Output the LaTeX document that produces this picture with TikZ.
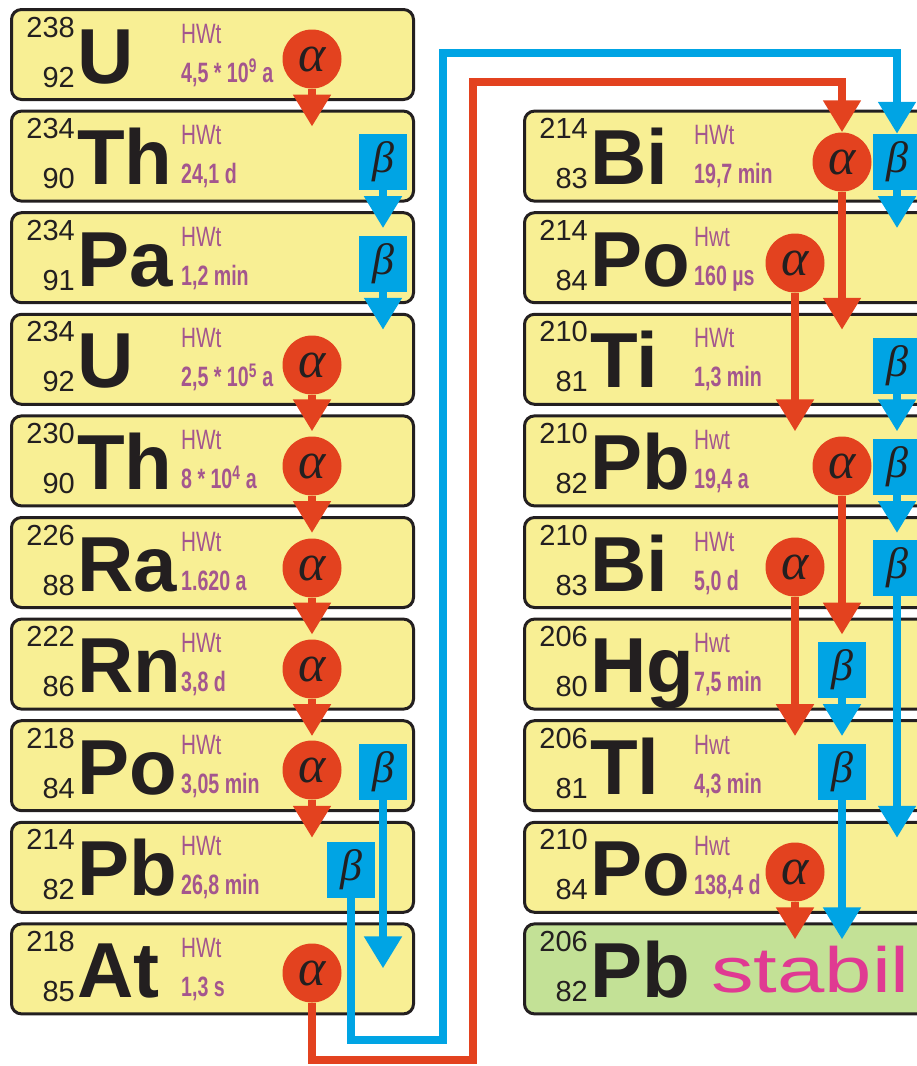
\documentclass[tikz,border=0pt]{standalone}
\usepackage{fontspec}
\setmainfont{Liberation Sans}
\newfontfamily\hwtfont[FakeStretch=0.74]{Liberation Sans}
\newfontfamily\hlfont[FakeStretch=0.70]{Liberation Sans Bold}
\newfontfamily\greekfont{Liberation Serif Italic}
\newfontfamily\stabilfont[FakeStretch=1.33]{Liberation Sans}
\usetikzlibrary{arrows.meta,calc}
\definecolor{inkblack}{RGB}{35,31,32}
\definecolor{nucyellow}{RGB}{248,239,148}
\definecolor{stablegreen}{RGB}{195,225,150}
\definecolor{decayred}{RGB}{227,66,31}
\definecolor{decayblue}{RGB}{0,164,228}
\definecolor{hwtpurple}{RGB}{164,86,142}
\definecolor{stabilpink}{RGB}{224,58,146}
\begin{document}
\begin{tikzpicture}[x=1pt,y=-1pt,
  nuc/.style={draw=inkblack,line width=3pt,rounded corners=10pt,fill=nucyellow,minimum width=402pt,minimum height=90pt,inner sep=0pt,anchor=north west},
  nucwide/.style={nuc,minimum width=440pt},
  mass/.style={anchor=base east,inner sep=0pt,text=inkblack,font=\fontsize{29}{29}\selectfont},
  sym/.style={anchor=base west,inner sep=0pt,text=inkblack,font=\fontsize{78}{78}\selectfont\bfseries},
  hwt/.style={anchor=base west,inner sep=0pt,text=hwtpurple,font=\hwtfont\fontsize{28}{28}\selectfont},
  halflife/.style={anchor=base west,inner sep=0pt,text=hwtpurple,font=\hlfont\fontsize{28}{28}\selectfont},
  alphadot/.style={circle,fill=decayred,minimum size=59pt,inner sep=0pt,text=inkblack,font=\greekfont\fontsize{52}{52}\selectfont},
  betabox/.style={rectangle,fill=decayblue,minimum width=48pt,minimum height=56pt,inner sep=0pt,text=inkblack,font=\greekfont\fontsize{44}{44}\selectfont},
  alphaarrow/.style={draw=decayred,line width=8.5pt,-{Triangle[width=36pt,length=32pt]}},
  betaarrow/.style={draw=decayblue,line width=8.5pt,-{Triangle[width=36pt,length=32pt]}}]
\useasboundingbox (0,0) rectangle (917,1066);
\clip (0,0) rectangle (917,1066);
\node[nuc] (U238) at (10,8) {};
\node[mass] (U238m) at (75,37) {238};
\node[mass] (U238z) at (75,87) {92};
\node[sym] (U238s) at (77,83) {U};
\node[hwt] (U238h) at (181,43) {HWt};
\node[halflife] (U238t) at (181,82) {4,5 * 10\textsuperscript{9} a};
\node[nuc] (Th234) at (10,109.6) {};
\node[mass] (Th234m) at (75,138.6) {234};
\node[mass] (Th234z) at (75,188.6) {90};
\node[sym] (Th234s) at (77,184.6) {Th};
\node[hwt] (Th234h) at (181,144.6) {HWt};
\node[halflife] (Th234t) at (181,183.6) {24,1 d};
\node[nuc] (Pa234) at (10,211.2) {};
\node[mass] (Pa234m) at (75,240.2) {234};
\node[mass] (Pa234z) at (75,290.2) {91};
\node[sym] (Pa234s) at (77,286.2) {Pa};
\node[hwt] (Pa234h) at (181,246.2) {HWt};
\node[halflife] (Pa234t) at (181,285.2) {1,2 min};
\node[nuc] (U234) at (10,312.8) {};
\node[mass] (U234m) at (75,341.8) {234};
\node[mass] (U234z) at (75,391.8) {92};
\node[sym] (U234s) at (77,387.8) {U};
\node[hwt] (U234h) at (181,347.8) {HWt};
\node[halflife] (U234t) at (181,386.8) {2,5 * 10\textsuperscript{5} a};
\node[nuc] (Th230) at (10,414.4) {};
\node[mass] (Th230m) at (75,443.4) {230};
\node[mass] (Th230z) at (75,493.4) {90};
\node[sym] (Th230s) at (77,489.4) {Th};
\node[hwt] (Th230h) at (181,449.4) {HWt};
\node[halflife] (Th230t) at (181,488.4) {8 * 10\textsuperscript{4} a};
\node[nuc] (Ra226) at (10,516) {};
\node[mass] (Ra226m) at (75,545) {226};
\node[mass] (Ra226z) at (75,595) {88};
\node[sym] (Ra226s) at (77,591) {Ra};
\node[hwt] (Ra226h) at (181,551) {HWt};
\node[halflife] (Ra226t) at (181,590) {1.620 a};
\node[nuc] (Rn222) at (10,617.6) {};
\node[mass] (Rn222m) at (75,646.6) {222};
\node[mass] (Rn222z) at (75,696.6) {86};
\node[sym] (Rn222s) at (77,692.6) {Rn};
\node[hwt] (Rn222h) at (181,652.6) {HWt};
\node[halflife] (Rn222t) at (181,691.6) {3,8 d};
\node[nuc] (Po218) at (10,719.2) {};
\node[mass] (Po218m) at (75,748.2) {218};
\node[mass] (Po218z) at (75,798.2) {84};
\node[sym] (Po218s) at (77,794.2) {Po};
\node[hwt] (Po218h) at (181,754.2) {HWt};
\node[halflife] (Po218t) at (181,793.2) {3,05 min};
\node[nuc] (Pb214) at (10,820.8) {};
\node[mass] (Pb214m) at (75,849.8) {214};
\node[mass] (Pb214z) at (75,899.8) {82};
\node[sym] (Pb214s) at (77,895.8) {Pb};
\node[hwt] (Pb214h) at (181,855.8) {HWt};
\node[halflife] (Pb214t) at (181,894.8) {26,8 min};
\node[nuc] (At218) at (10,922.4) {};
\node[mass] (At218m) at (75,951.4) {218};
\node[mass] (At218z) at (75,1001.4) {85};
\node[sym] (At218s) at (77,997.4) {At};
\node[hwt] (At218h) at (181,957.4) {HWt};
\node[halflife] (At218t) at (181,996.4) {1,3 s};
\node[nucwide] (Bi214) at (523,109.6) {};
\node[mass] (Bi214m) at (588,138.6) {214};
\node[mass] (Bi214z) at (588,188.6) {83};
\node[sym] (Bi214s) at (590,184.6) {Bi};
\node[hwt] (Bi214h) at (694,144.6) {HWt};
\node[halflife] (Bi214t) at (694,183.6) {19,7 min};
\node[nucwide] (Po214) at (523,211.2) {};
\node[mass] (Po214m) at (588,240.2) {214};
\node[mass] (Po214z) at (588,290.2) {84};
\node[sym] (Po214s) at (590,286.2) {Po};
\node[hwt] (Po214h) at (694,246.2) {Hwt};
\node[halflife] (Po214t) at (694,285.2) {160 µs};
\node[nucwide] (Ti210) at (523,312.8) {};
\node[mass] (Ti210m) at (588,341.8) {210};
\node[mass] (Ti210z) at (588,391.8) {81};
\node[sym] (Ti210s) at (590,387.8) {Ti};
\node[hwt] (Ti210h) at (694,347.8) {HWt};
\node[halflife] (Ti210t) at (694,386.8) {1,3 min};
\node[nucwide] (Pb210) at (523,414.4) {};
\node[mass] (Pb210m) at (588,443.4) {210};
\node[mass] (Pb210z) at (588,493.4) {82};
\node[sym] (Pb210s) at (590,489.4) {Pb};
\node[hwt] (Pb210h) at (694,449.4) {Hwt};
\node[halflife] (Pb210t) at (694,488.4) {19,4 a};
\node[nucwide] (Bi210) at (523,516) {};
\node[mass] (Bi210m) at (588,545) {210};
\node[mass] (Bi210z) at (588,595) {83};
\node[sym] (Bi210s) at (590,591) {Bi};
\node[hwt] (Bi210h) at (694,551) {HWt};
\node[halflife] (Bi210t) at (694,590) {5,0 d};
\node[nucwide] (Hg206) at (523,617.6) {};
\node[mass] (Hg206m) at (588,646.6) {206};
\node[mass] (Hg206z) at (588,696.6) {80};
\node[sym] (Hg206s) at (590,692.6) {Hg};
\node[hwt] (Hg206h) at (694,652.6) {Hwt};
\node[halflife] (Hg206t) at (694,691.6) {7,5 min};
\node[nucwide] (Tl206) at (523,719.2) {};
\node[mass] (Tl206m) at (588,748.2) {206};
\node[mass] (Tl206z) at (588,798.2) {81};
\node[sym] (Tl206s) at (590,794.2) {Tl};
\node[hwt] (Tl206h) at (694,754.2) {Hwt};
\node[halflife] (Tl206t) at (694,793.2) {4,3 min};
\node[nucwide] (Po210) at (523,820.8) {};
\node[mass] (Po210m) at (588,849.8) {210};
\node[mass] (Po210z) at (588,899.8) {84};
\node[sym] (Po210s) at (590,895.8) {Po};
\node[hwt] (Po210h) at (694,855.8) {Hwt};
\node[halflife] (Po210t) at (694,894.8) {138,4 d};
\node[nucwide,fill=stablegreen] (Pb206) at (523,922.4) {};
\node[mass] (Pb206m) at (588,951.4) {206};
\node[mass] (Pb206z) at (588,1001.4) {82};
\node[sym] (Pb206s) at (590,997.4) {Pb};
\node[anchor=base west,inner sep=0pt,text=stabilpink,font=\stabilfont\fontsize{64}{64}\selectfont] (Pb206st) at (711,992) {stabil};
\node[alphadot] (aU238) at (312,59) {α};
\node[betabox] (bTh234) at (383,162) {β};
\node[betabox] (bPa234) at (383,264) {β};
\node[alphadot] (aU234) at (312,365) {α};
\node[alphadot] (aTh230) at (312,466) {α};
\node[alphadot] (aRa226) at (312,568) {α};
\node[alphadot] (aRn222) at (312,669) {α};
\node[alphadot] (aPo218) at (312,770) {α};
\node[betabox] (bPo218) at (383,772) {β};
\node[betabox] (bPb214) at (351,870) {β};
\node[alphadot] (aAt218) at (312,973) {α};
\node[alphadot] (aBi214) at (842,162) {α};
\node[betabox] (bBi214) at (897,162) {β};
\node[alphadot] (aPo214) at (795,263) {α};
\node[betabox] (bTi210) at (897,366) {β};
\node[alphadot] (aPb210) at (842,466) {α};
\node[betabox] (bPb210) at (897,467) {β};
\node[alphadot] (aBi210) at (795,567) {α};
\node[betabox] (bBi210) at (897,568) {β};
\node[betabox] (bHg206) at (842,670) {β};
\node[betabox] (bTl206) at (842,772) {β};
\node[alphadot] (aPo210) at (795,872) {α};
\coordinate (bluelow) at (443,1040);
\coordinate (bluetop) at (897,53);
\coordinate (redlow) at (473,1060);
\coordinate (redtop) at (842,82);
\draw[alphaarrow] (aU238) -- ($(aU238 |- Th234.north)+(0,17)$);
\draw[betaarrow] (bTh234) -- ($(bTh234 |- Pa234.north)+(0,17)$);
\draw[betaarrow] (bPa234) -- ($(bPa234 |- U234.north)+(0,17)$);
\draw[alphaarrow] (aU234) -- ($(aU234 |- Th230.north)+(0,17)$);
\draw[alphaarrow] (aTh230) -- ($(aTh230 |- Ra226.north)+(0,17)$);
\draw[alphaarrow] (aRa226) -- ($(aRa226 |- Rn222.north)+(0,17)$);
\draw[alphaarrow] (aRn222) -- ($(aRn222 |- Po218.north)+(0,17)$);
\draw[alphaarrow] (aPo218) -- ($(aPo218 |- Pb214.north)+(0,17)$);
\draw[betaarrow] (bPo218) -- ($(bPo218 |- At218.north)+(0,46)$);
\draw[betaarrow] (bPb214) |- (bluelow) |- (bluetop) -- (bBi214);
\draw[alphaarrow] (aAt218) |- (redlow) |- (redtop) -- (aBi214);
\draw[alphaarrow] (aBi214) -- ($(aBi214 |- Ti210.north)+(0,17)$);
\draw[betaarrow] (bBi214) -- ($(bBi214 |- Po214.north)+(0,17)$);
\draw[alphaarrow] (aPo214) -- ($(aPo214 |- Pb210.north)+(0,17)$);
\draw[betaarrow] (bTi210) -- ($(bTi210 |- Pb210.north)+(0,17)$);
\draw[alphaarrow] (aPb210) -- ($(aPb210 |- Hg206.north)+(0,17)$);
\draw[betaarrow] (bPb210) -- ($(bPb210 |- Bi210.north)+(0,17)$);
\draw[alphaarrow] (aBi210) -- ($(aBi210 |- Tl206.north)+(0,17)$);
\draw[betaarrow] (bBi210) -- ($(bBi210 |- Po210.north)+(0,17)$);
\draw[betaarrow] (bHg206) -- ($(bHg206 |- Tl206.north)+(0,17)$);
\draw[betaarrow] (bTl206) -- ($(bTl206 |- Pb206.north)+(0,17)$);
\draw[alphaarrow] (aPo210) -- ($(aPo210 |- Pb206.north)+(0,17)$);
\end{tikzpicture}
\end{document}
